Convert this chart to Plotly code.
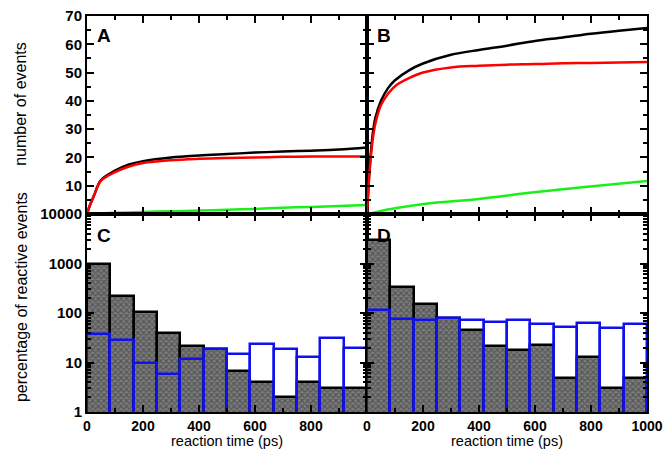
import plotly.graph_objects as go
from plotly.subplots import make_subplots

# cumulative number of events, panel A
t_a = [0, 10, 25, 50, 100, 150, 200, 300, 400, 500, 600, 700, 800, 900, 1000]
a_black = [0, 3, 6.5, 12, 15.3, 17.5, 18.7, 20, 20.7, 21.2, 21.7, 22.1, 22.4, 22.8, 23.5]
a_red = [0, 3, 6.5, 11.8, 14.8, 16.8, 18, 19, 19.5, 19.8, 20, 20.2, 20.3, 20.3, 20.3]
t_ag = [0, 100, 200, 300, 400, 500, 600, 700, 800, 900, 1000]
a_green = [0, 0.4, 0.7, 1.0, 1.2, 1.5, 1.8, 2.2, 2.5, 2.8, 3.2]

# panel B
t_b = [0, 5, 10, 20, 30, 50, 75, 100, 150, 200, 300, 400, 500, 600, 700, 800, 900, 1000]
b_black = [0, 9, 17, 28, 34, 40, 44.5, 47.3, 50.8, 53.2, 56.3, 58, 59.5, 61.2, 62.4, 63.7, 64.8, 65.8]
b_red = [0, 9, 16, 26, 32, 38.5, 42.5, 45.2, 48, 50, 51.8, 52.4, 52.8, 53, 53.3, 53.4, 53.6, 53.7]
t_bg = [0, 10, 100, 225, 400, 580, 760, 1000]
b_green = [0, 0.2, 2.0, 3.8, 5.3, 7.5, 9.4, 11.7]

# histograms, 12 bins over 0-1000 ps
bin_w = 1000 / 12
bin_mid = [bin_w * (i + 0.5) for i in range(12)]
c_black = [1000, 225, 104, 40, 21.5, 18.5, 6.8, 4, 2, 4, 3, 3]
c_blue = [37, 28.5, 9.8, 5.9, 12, 19, 14.8, 24, 18.5, 13, 32, 20]
d_black = [2960, 340, 150, 80, 45, 22, 18, 23, 4.9, 12.9, 3, 4.9]
d_blue = [117, 77, 71, 80, 72, 66, 73, 60, 52, 62, 50, 60]

fig = make_subplots(rows=2, cols=2, horizontal_spacing=0, vertical_spacing=0)

def lines(t, y, color, row, col):
    fig.add_trace(go.Scatter(x=t, y=y, mode='lines', line=dict(color=color, width=2.5, shape='spline'),
                             showlegend=False), row=row, col=col)

lines(t_a, a_black, 'black', 1, 1)
lines(t_a, a_red, '#ff0000', 1, 1)
lines(t_ag, a_green, '#1aef1a', 1, 1)
lines(t_b, b_black, 'black', 1, 2)
lines(t_b, b_red, '#ff0000', 1, 2)
lines(t_bg, b_green, '#1aef1a', 1, 2)

hatch = dict(shape='x', bgcolor='#7c7c7c', fgcolor='#2e2e2e', size=4, solidity=0.5)
for col, blk, blu in [(1, c_black, c_blue), (2, d_black, d_blue)]:
    fig.add_trace(go.Bar(x=bin_mid, y=blk, width=bin_w,
                         marker=dict(color='#7c7c7c', pattern=hatch, line=dict(color='black', width=2.5)),
                         showlegend=False), row=2, col=col)
    fig.add_trace(go.Bar(x=bin_mid, y=blu, width=bin_w,
                         marker=dict(color='rgba(0,0,0,0)', line=dict(color='#1010ee', width=2.5)),
                         showlegend=False), row=2, col=col)

tickfont = dict(family='Liberation Sans', size=15, color='black', weight='bold')
common = dict(showline=True, linewidth=2, linecolor='black', mirror='allticks', ticks='inside',
              ticklen=7, tickwidth=1.5, tickcolor='black', showgrid=False, zeroline=False,
              tickfont=tickfont, automargin=False)

for r in (1, 2):
    for c in (1, 2):
        xa = dict(common, range=[0, 1000], tickvals=[0, 200, 400, 600, 800, 1000],
                  tickfont=dict(tickfont, size=14),
                  minor=dict(ticks='inside', ticklen=4, dtick=100, tickcolor='black', showgrid=False))
        if r == 1:
            xa['showticklabels'] = False
        elif c == 1:
            xa['ticktext'] = ['0', '200', '400', '600', '800', '']
        else:
            xa['ticktext'] = ['0', '200', '400', '600', '800', '1000']
        fig.update_xaxes(row=r, col=c, **xa)
        if r == 1:
            ya = dict(common, range=[0, 70], tickvals=[10, 20, 30, 40, 50, 60, 70],
                      minor=dict(ticks='inside', ticklen=4, dtick=5, tickcolor='black', showgrid=False),
                      showticklabels=(c == 1))
        else:
            ya = dict(common, type='log', range=[0, 4], tickvals=[1, 10, 100, 1000, 10000],
                      ticktext=['1', '10', '100', '1000', '10000'],
                      minor=dict(ticks='inside', ticklen=4, dtick='D1', tickcolor='black', showgrid=False),
                      showticklabels=(c == 1))
        fig.update_yaxes(row=r, col=c, **ya)

lab = dict(family='Liberation Sans', size=19, color='black', weight='bold')
for txt, x, y in [('A', 0.014, 0.982), ('B', 0.514, 0.982), ('C', 0.014, 0.478), ('D', 0.514, 0.478)]:
    fig.add_annotation(text=txt, x=x, y=y, xref='paper', yref='paper', xanchor='left', yanchor='top',
                       showarrow=False, font=lab)

tf = dict(family='Liberation Sans', size=16, color='black')
fig.add_annotation(text='number of events', x=-0.118, y=0.778, xref='paper', yref='paper',
                   xanchor='center', yanchor='middle', textangle=-90, showarrow=False, font=tf)
fig.add_annotation(text='percentage of reactive events', x=-0.118, y=0.29, xref='paper', yref='paper',
                   xanchor='center', yanchor='middle', textangle=-90, showarrow=False, font=tf)
for x in (0.25, 0.75):
    fig.add_annotation(text='reaction time (ps)', x=x, y=-0.0955, xref='paper', yref='paper',
                       xanchor='center', yanchor='bottom', showarrow=False, borderpad=0,
                       font=dict(tf, size=14.5))

fig.update_layout(width=668, height=450, margin=dict(l=87, r=21, t=16, b=38, autoexpand=False),
                  plot_bgcolor='white', paper_bgcolor='white', barmode='overlay', bargap=0)
fig.write_html("out.html", config={'displayModeBar': False},
               post_script="document.body.style.margin='0';")
